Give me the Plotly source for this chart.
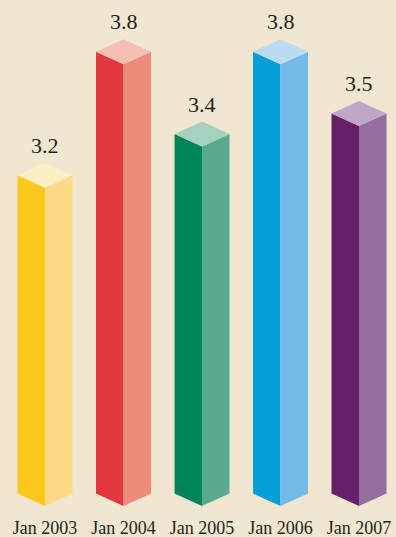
import plotly.graph_objects as go

# ---- data ----
categories = ["Jan 2003", "Jan 2004", "Jan 2005", "Jan 2006", "Jan 2007"]
values = [3.2, 3.8, 3.4, 3.8, 3.5]
value_labels = ["3.2", "3.8", "3.4", "3.8", "3.5"]

# ---- styles ----
front_colors = ["#FCC81C", "#E3373F", "#00855A", "#049EDB", "#661F68"]
side_colors = ["#FDDA86", "#EE8A7A", "#58AB8C", "#72BBE8", "#936E9E"]
top_colors = ["#FDEFC4", "#F5BFB3", "#A6D0BF", "#BBDBF3", "#C0A7CA"]
bg = "#F1E7D1"

W, H = 396, 537
mb = 22
plot_h = H - mb
px_per_x = 78.5
px_per_v = 205.8
x0 = -45 / px_per_x
x1 = x0 + W / px_per_x
v_top = 3.54 + 117.8 / px_per_v
v_bot = v_top - plot_h / px_per_v
base = v_top - 506 / px_per_v      # bar base level on the value scale

hw = 27.5 / px_per_x               # half width of the prism (x units)
dy = 12.5 / px_per_v               # isometric rise (value units)

fig = go.Figure()
for i, v in enumerate(values):
    c = i
    # front face
    fig.add_trace(go.Scatter(
        x=[c - hw, c, c, c - hw, c - hw],
        y=[base + dy, base, v, v + dy, base + dy],
        fill="toself", mode="lines", line=dict(width=0),
        fillcolor=front_colors[i], hoverinfo="skip", showlegend=False))
    # side face
    fig.add_trace(go.Scatter(
        x=[c, c + hw, c + hw, c, c],
        y=[base, base + dy, v + dy, v, base],
        fill="toself", mode="lines", line=dict(width=0),
        fillcolor=side_colors[i], hoverinfo="skip", showlegend=False))
    # top
    fig.add_trace(go.Scatter(
        x=[c, c - hw, c, c + hw, c],
        y=[v, v + dy, v + 2 * dy, v + dy, v],
        fill="toself", mode="lines", line=dict(width=0),
        fillcolor=top_colors[i], hoverinfo="skip", showlegend=False))
    fig.add_annotation(x=c, y=v + 2 * dy, text=value_labels[i],
                       showarrow=False, yanchor="bottom", yshift=3,
                       font=dict(family="Liberation Serif", size=22, color="#231F20"))

fig.update_layout(
    width=W, height=H,
    margin=dict(l=0, r=0, t=0, b=mb),
    paper_bgcolor=bg, plot_bgcolor=bg,
    xaxis=dict(range=[x0, x1], showgrid=False, zeroline=False, showline=False,
               tickmode="array", tickvals=list(range(len(categories))),
               ticktext=categories, ticks="", automargin=False,
               tickfont=dict(family="Liberation Serif", size=18, color="#231F20"),
               fixedrange=True),
    yaxis=dict(range=[v_bot, v_top], showgrid=False, zeroline=False,
               showline=False, showticklabels=False, fixedrange=True,
               automargin=False),
)

fig.write_html("out.html")
